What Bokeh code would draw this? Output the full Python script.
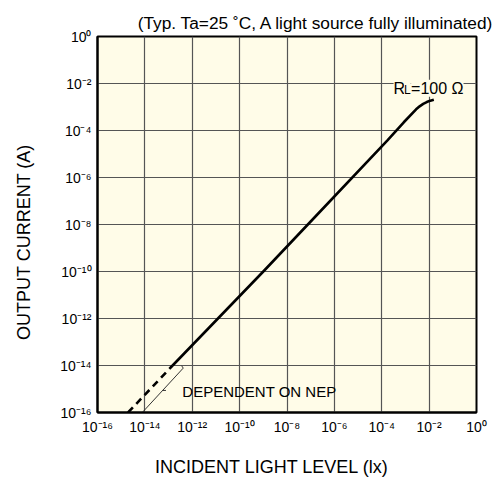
from bokeh.plotting import figure
from bokeh.models import FixedTicker, Label
from bokeh.embed import file_html
from bokeh.resources import INLINE

# ---- data ----
light_dashed = [1.95e-15, 1.48e-13]          # lx
current_dashed = [1.0e-16, 1.0e-14]          # A
light = [1.48e-13, 1.0e-9, 7.59e-8, 1.70e-4, 8.51e-4, 2.82e-3, 3.98e-3,
         5.62e-3, 7.94e-3, 1.12e-2, 1.58e-2]
current = [1.0e-14, 1.0e-10, 1.0e-8, 3.72e-5, 2.24e-4, 7.94e-4, 1.07e-3,
           1.35e-3, 1.62e-3, 1.86e-3, 2.04e-3]

nep_x = [7.76e-15, 4.17e-13, 3.55e-13]
nep_y = [1.0e-16, 7.76e-15, 9.77e-15]
nep_tick_x = [5.62e-14, 7.76e-14]
nep_tick_y = [8.7e-16, 8.7e-16]

ticks = [1e-16, 1e-14, 1e-12, 1e-10, 1e-8, 1e-6, 1e-4, 1e-2, 1e0]
tick_labels = ["10⁻¹⁶", "10⁻¹⁴", "10⁻¹²", "10⁻¹⁰", "10⁻⁸", "10⁻⁶", "10⁻⁴", "10⁻²", "10⁰"]

title_text = "(Typ. Ta=25 ˚C, A light source fully illuminated)"
x_label = "INCIDENT LIGHT LEVEL (lx)"
y_label = "OUTPUT CURRENT (A)"

FONT = "Liberation Sans"
BG = "#FFFCE8"
NB = "\u00a0"

p = figure(frame_width=379, frame_height=376, x_axis_type="log", y_axis_type="log",
           x_range=(1e-16, 1), y_range=(1e-16, 1),
           output_backend="svg", toolbar_location=None,
           min_border_left=97, min_border_right=17, min_border_top=36, min_border_bottom=64)

p.background_fill_color = BG
p.border_fill_color = "white"
p.outline_line_color = "black"
p.outline_line_width = 2

p.title.text = title_text
p.title.align = "right"
p.title.offset = -18
p.title.standoff = 8
p.title.text_font = FONT
p.title.text_font_size = "17.3px"
p.title.text_font_style = "normal"
p.title.text_color = "black"

for ax in (p.xaxis[0], p.yaxis[0]):
    ax.ticker = FixedTicker(ticks=ticks)
    ax.major_label_overrides = dict(zip(ticks, tick_labels))
    ax.major_label_text_font = FONT
    ax.major_label_text_font_size = "14px"
    ax.major_label_text_color = "black"
    ax.major_tick_out = 0
    ax.major_tick_in = 0
    ax.minor_tick_out = 0
    ax.minor_tick_in = 0
    ax.axis_line_width = 2
    ax.axis_line_color = "black"
    ax.major_label_standoff = 6
    ax.axis_label_text_font = FONT
    ax.axis_label_text_font_size = "18px"
    ax.axis_label_text_font_style = "normal"
    ax.axis_label_text_color = "black"

p.xaxis[0].axis_label = x_label + NB * 6
p.xaxis[0].axis_label_standoff = 19
p.yaxis[0].axis_label = y_label + NB * 7
p.yaxis[0].axis_label_standoff = 23

p.xgrid.grid_line_color = "#555555"
p.ygrid.grid_line_color = "#555555"
p.xgrid.grid_line_width = 1.2
p.ygrid.grid_line_width = 1.2

p.line(light_dashed, current_dashed, line_color="black", line_width=2.6, line_dash="7 5")
p.line(light, current, line_color="black", line_width=2.6, line_join="round")
p.line(nep_x, nep_y, line_color="#333333", line_width=1)
p.line(nep_tick_x, nep_tick_y, line_color="#333333", line_width=1)

def lab(x, y, text, size, **kw):
    opts = dict(text_font=FONT, text_font_size=size, text_color="black",
                text_baseline="bottom")
    opts.update(kw)
    p.add_layout(Label(x=x, y=y, text=text, **opts))

# RL = 100 ohm
rl_x, rl_y = 3.16e-4, 2.75e-3
for t, off, sz in (("R", 0, "16px"), ("L", 10.5, "12px"), ("=100 Ω", 17.5, "16px")):
    lab(rl_x, rl_y, t, sz, x_offset=off, background_fill_color=BG)

# NEP label
lab(3.8e-13, 3.5e-16, "DEPENDENT ON NEP", "15px")

open("out.html", "w").write(file_html(p, INLINE))
